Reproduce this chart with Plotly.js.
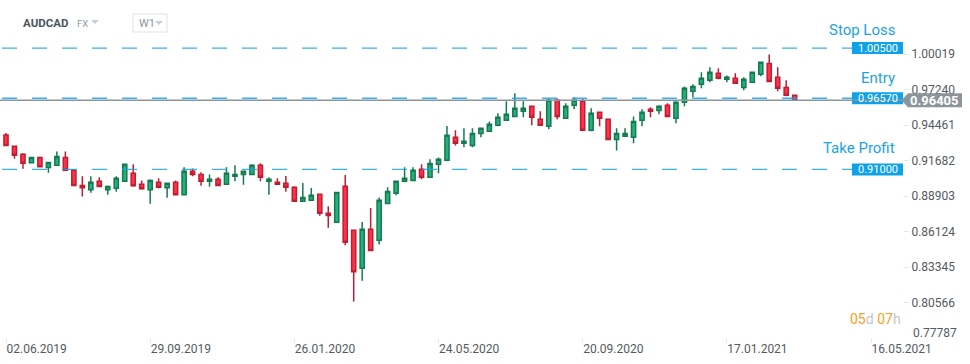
<!DOCTYPE html>
<html>
<head>
<meta charset="utf-8">
<script src="https://cdn.plot.ly/plotly-3.0.1.min.js"></script>
<style>
  html, body { margin: 0; padding: 0; background: #ffffff; }
  #chart { width: 970px; height: 364px; }
</style>
</head>
<body>
<div id="chart"></div>
<script>
// ---------- DATA ----------
const symbol = 'AUDCAD';
const market = 'FX';
const timeframe = 'W1';
const firstWeek = '2019-06-02';

const openP = [0.9369,0.9281,0.9218,0.9153,0.9194,0.9114,0.9132,0.9194,0.9093,0.8975,
  0.8941,0.9007,0.8941,0.8952,0.9007,0.9069,0.8983,0.8941,0.8999,0.8957,
  0.8999,0.8902,0.9085,0.9061,0.9007,0.9022,0.8983,0.9046,0.9061,0.9061,
  0.9132,0.9007,0.8999,0.8991,0.8960,0.8850,0.8858,0.8905,0.8756,0.8686,
  0.8968,0.8623,0.8326,0.8631,0.8545,0.8834,0.8913,0.9007,0.9014,0.9101,
  0.9038,0.9140,0.9171,0.9351,0.9304,0.9288,0.9382,0.9398,0.9445,0.9484,
  0.9515,0.9555,0.9594,0.9492,0.9437,0.9641,0.9500,0.9602,0.9633,0.9406,
  0.9547,0.9492,0.9335,0.9359,0.9351,0.9484,0.9570,0.9562,0.9602,0.9500,
  0.9625,0.9711,0.9766,0.9797,0.9852,0.9805,0.9813,0.9742,0.9782,0.9844,
  0.9930,0.9821,0.9742,0.9680];
const highP = [0.9385,0.9281,0.9226,0.9194,0.9202,0.9155,0.9241,0.9241,0.9093,0.9046,
  0.9046,0.9038,0.8975,0.9046,0.9140,0.9140,0.9014,0.9022,0.9030,0.8991,
  0.9014,0.9116,0.9108,0.9077,0.9061,0.9038,0.9116,0.9132,0.9085,0.9140,
  0.9148,0.9038,0.9030,0.9048,0.8968,0.8994,0.8954,0.8905,0.8811,0.8920,
  0.9056,0.8623,0.8688,0.8798,0.8881,0.8960,0.9007,0.9116,0.9116,0.9140,
  0.9179,0.9194,0.9440,0.9406,0.9422,0.9422,0.9429,0.9476,0.9539,0.9633,
  0.9696,0.9633,0.9594,0.9555,0.9656,0.9656,0.9617,0.9664,0.9656,0.9578,
  0.9547,0.9492,0.9422,0.9422,0.9515,0.9570,0.9586,0.9602,0.9617,0.9633,
  0.9750,0.9766,0.9860,0.9899,0.9891,0.9836,0.9852,0.9821,0.9860,0.9938,
  1.0000,0.9899,0.9797,0.9680];
const lowP = [0.9288,0.9184,0.9106,0.9153,0.9121,0.9074,0.9132,0.9093,0.8975,0.8887,
  0.8918,0.8967,0.8902,0.8926,0.9007,0.8965,0.8941,0.8832,0.8952,0.8879,
  0.8902,0.8902,0.9046,0.8973,0.8965,0.8975,0.8983,0.9007,0.8980,0.9061,
  0.9007,0.8902,0.8983,0.8926,0.8850,0.8850,0.8858,0.8738,0.8644,0.8686,
  0.8506,0.8065,0.8229,0.8459,0.8513,0.8834,0.8897,0.8999,0.9014,0.9022,
  0.9038,0.9069,0.9163,0.9288,0.9273,0.9273,0.9351,0.9398,0.9437,0.9484,
  0.9515,0.9508,0.9445,0.9445,0.9414,0.9492,0.9500,0.9570,0.9398,0.9398,
  0.9437,0.9328,0.9249,0.9359,0.9304,0.9437,0.9508,0.9531,0.9515,0.9461,
  0.9594,0.9664,0.9735,0.9782,0.9805,0.9782,0.9774,0.9719,0.9782,0.9829,
  0.9789,0.9711,0.9672,0.9640];
const closeP = [0.9288,0.9210,0.9148,0.9194,0.9121,0.9155,0.9202,0.9093,0.8975,0.8957,
  0.8999,0.8967,0.8967,0.9030,0.9140,0.8973,0.8949,0.9014,0.8960,0.8991,
  0.8902,0.9085,0.9061,0.9007,0.9022,0.8975,0.9069,0.9061,0.9085,0.9132,
  0.9038,0.9022,0.8983,0.8960,0.8850,0.8881,0.8897,0.8756,0.8740,0.8920,
  0.8529,0.8299,0.8631,0.8466,0.8858,0.8928,0.9007,0.9030,0.9093,0.9038,
  0.9147,0.9179,0.9367,0.9304,0.9320,0.9382,0.9422,0.9453,0.9508,0.9531,
  0.9578,0.9578,0.9508,0.9445,0.9641,0.9515,0.9594,0.9641,0.9406,0.9539,
  0.9500,0.9335,0.9382,0.9382,0.9476,0.9547,0.9555,0.9594,0.9515,0.9625,
  0.9735,0.9750,0.9813,0.9860,0.9813,0.9821,0.9774,0.9805,0.9860,0.9938,
  0.9789,0.9735,0.9680,0.96405];

const currentPrice = 0.96405;
const levelNames  = ['Stop Loss', 'Entry', 'Take Profit'];
const levelValues = [1.00500, 0.96570, 0.91000];

const yTickVals = [1.00019, 0.97240, 0.94461, 0.91682, 0.88903, 0.86124, 0.83345, 0.80566];
const yBottomLabel = 0.77787;
const xTickVals = ['2019-06-02','2019-09-29','2020-01-26','2020-05-24','2020-09-20','2021-01-17','2021-05-16'];
const xTickText = ['02.06.2019','29.09.2019','26.01.2020','24.05.2020','20.09.2020','17.01.2021','16.05.2021'];
const countdown = {days: '05', hours: '07'};

// weekly candle dates
const dates = [];
const t0 = Date.parse(firstWeek + 'T00:00:00Z');
for (let i = 0; i < openP.length; i++) {
  dates.push(new Date(t0 + i * 7 * 86400000).toISOString().slice(0, 10));
}

// ---------- STYLE ----------
const FONT = 'Roboto, "Open Sans", sans-serif';
const BLUE = '#1aa3e8';
const BLUE_BOX = '#0ea2ea';
const GREY_LINE = '#8c9599';
const PLOT_W = 903;       // px width of plot area
const PLOT_H = 338;       // px height of plot area
const PX = 1 / PLOT_W;    // one px in paper x
const yRange = [0.77802, 1.04262];
const PY = (yRange[1] - yRange[0]) / PLOT_H; // one px in y data units

const trace = {
  type: 'candlestick',
  x: dates, open: openP, high: highP, low: lowP, close: closeP,
  increasing: {line: {color: '#157a50', width: 1.5}, fillcolor: '#23b07a'},
  decreasing: {line: {color: '#c01d33', width: 1.5}, fillcolor: '#ff3348'},
  whiskerwidth: 0,
  hoverinfo: 'skip',
  showlegend: false
};

const shapes = [];
const annotations = [];

// level dashed lines, boxes and names
const yShifts = [18, 20, 21];
levelValues.forEach((v, i) => {
  shapes.push({type: 'line', xref: 'paper', yref: 'y', x0: 2 * PX, x1: 852 * PX, y0: v, y1: v,
    line: {color: BLUE, width: 1.3, dash: '15px,15px'}, opacity: 0.85, layer: 'above'});
  shapes.push({type: 'rect', xref: 'paper', yref: 'y', x0: 852 * PX, x1: 1, y0: v - 6 * PY, y1: v + 6 * PY,
    fillcolor: BLUE_BOX, line: {width: 0}, layer: 'above'});
  annotations.push({xref: 'paper', yref: 'y', x: 877.5 * PX, y: v, xanchor: 'center', yanchor: 'middle',
    text: v.toFixed(5), showarrow: false, font: {family: FONT, size: 11, color: '#ffffff'}});
  annotations.push({xref: 'paper', yref: 'y', x: 897 * PX, y: v, yshift: yShifts[i], xanchor: 'right', yanchor: 'middle',
    text: levelNames[i], showarrow: false, font: {family: FONT, size: 15, color: BLUE}});
});

// current price line and label
shapes.push({type: 'line', xref: 'paper', yref: 'y', x0: 0, x1: 1, y0: currentPrice, y1: currentPrice,
  line: {color: GREY_LINE, width: 1.5}, layer: 'above'});
const cp = currentPrice;
shapes.push({type: 'path', xref: 'paper', yref: 'y', layer: 'above',
  path: `M ${901.5*PX} ${cp} L ${908*PX} ${cp + 7*PY} L ${962*PX} ${cp + 7*PY} L ${962*PX} ${cp - 7*PY} L ${908*PX} ${cp - 7*PY} Z`,
  fillcolor: GREY_LINE, line: {width: 0}});
annotations.push({xref: 'paper', yref: 'y', x: 935 * PX, y: cp, xanchor: 'center', yanchor: 'middle',
  text: '<b>' + cp.toFixed(5) + '</b>', showarrow: false, font: {family: FONT, size: 13, color: '#ffffff'}});

// bottom y label (shifted up as in the platform)
annotations.push({xref: 'paper', yref: 'paper', x: 1, xshift: 8, y: 0, yshift: 5, xanchor: 'left', yanchor: 'middle',
  text: yBottomLabel.toFixed(5), showarrow: false, font: {family: FONT, size: 12, color: '#555a5e'}});

// header
const py = px => 1 - px / PLOT_H;
annotations.push({xref: 'paper', yref: 'paper', x: 21 * PX, y: py(23), xanchor: 'left', yanchor: 'middle',
  text: '<b>' + symbol + '</b>', showarrow: false, font: {family: FONT, size: 11.5, color: '#4a555f'}});
annotations.push({xref: 'paper', yref: 'paper', x: 75 * PX, y: py(23), xanchor: 'left', yanchor: 'middle',
  text: market, showarrow: false, font: {family: FONT, size: 9.5, color: '#8d9ba7'}});
function tri(cx, cy, color) {
  shapes.push({type: 'path', xref: 'paper', yref: 'paper', layer: 'above',
    path: `M ${(cx-4)*PX} ${py(cy-2)} L ${(cx+4)*PX} ${py(cy-2)} L ${cx*PX} ${py(cy+2)} Z`,
    fillcolor: color, line: {width: 0}});
}
tri(95, 22, '#c9ced3');
shapes.push({type: 'rect', xref: 'paper', yref: 'paper', layer: 'above',
  x0: 133 * PX, x1: 167 * PX, y0: py(32), y1: py(14), line: {color: '#dfe3e6', width: 1}, fillcolor: 'rgba(0,0,0,0)'});
annotations.push({xref: 'paper', yref: 'paper', x: 137 * PX, y: py(23), xanchor: 'left', yanchor: 'middle',
  text: timeframe, showarrow: false, font: {family: FONT, size: 11, color: '#8c97a1'}});
tri(159, 23, '#c9ced3');

// countdown
annotations.push({xref: 'paper', yref: 'paper', x: 1, y: py(319), xanchor: 'right', yanchor: 'middle',
  text: `<span style="color:#f7a21d">${countdown.days}</span><span style="color:#c3c6c9">d </span>` +
        `<span style="color:#f7a21d">${countdown.hours}</span><span style="color:#c3c6c9">h</span>`,
  showarrow: false, font: {family: FONT, size: 14, color: '#f7a21d'}});

const layout = {
  width: 970, height: 364,
  margin: {l: 0, r: 970 - PLOT_W, t: 0, b: 364 - PLOT_H},
  paper_bgcolor: '#ffffff', plot_bgcolor: '#ffffff',
  showlegend: false,
  font: {family: FONT, size: 12, color: '#555a5e'},
  xaxis: {
    type: 'date',
    range: ['2019-05-28 01:00', '2021-06-11 10:00'],
    rangeslider: {visible: false},
    showgrid: false, zeroline: false, showline: false,
    tickmode: 'array', tickvals: xTickVals, ticktext: xTickText,
    ticks: 'outside', ticklen: 4, tickcolor: '#e6e6e6', tickwidth: 1,
    ticklabelposition: 'outside right',
    tickfont: {family: FONT, size: 12, color: '#555a5e'},
    fixedrange: true
  },
  yaxis: {
    side: 'right',
    range: yRange,
    showgrid: false, zeroline: false, showline: false,
    tickmode: 'array', tickvals: yTickVals, ticktext: yTickVals.map(v => v.toFixed(5)),
    ticks: 'outside', ticklen: 5, tickcolor: '#e6e6e6', tickwidth: 1,
    tickfont: {family: FONT, size: 12, color: '#555a5e'},
    fixedrange: true
  },
  boxgap: 0.3,
  shapes: shapes,
  annotations: annotations
};

Plotly.newPlot('chart', [trace], layout, {displayModeBar: false, staticPlot: true});
</script>
</body>
</html>
